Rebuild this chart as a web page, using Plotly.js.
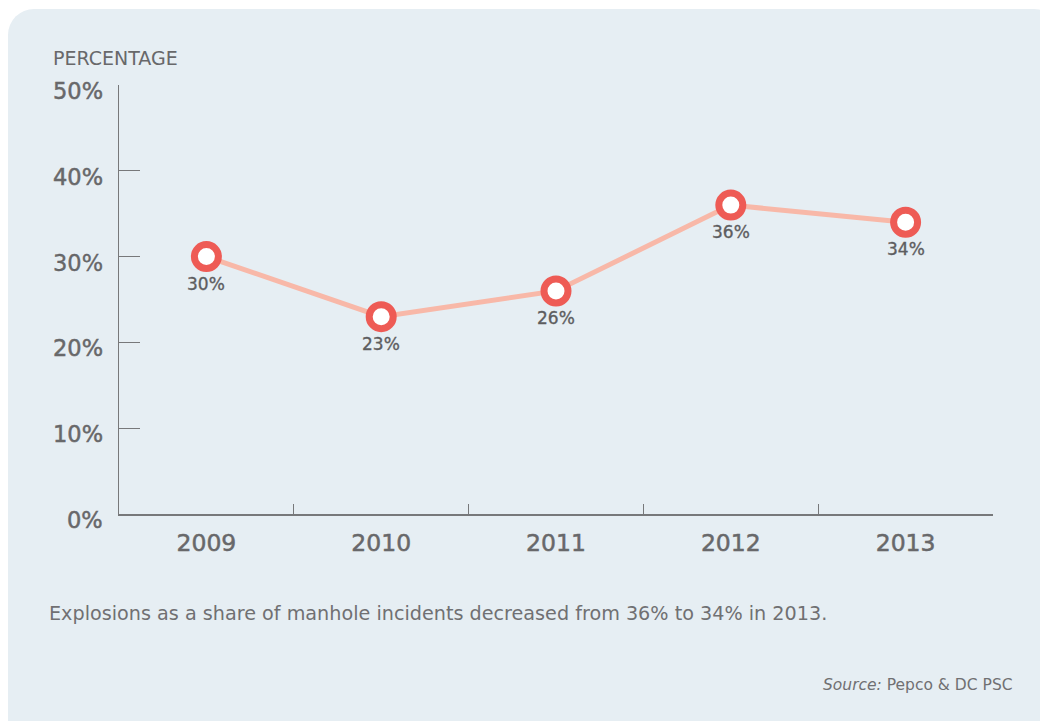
<!DOCTYPE html>
<html>
<head>
<meta charset="utf-8">
<script src="https://cdn.plot.ly/plotly-3.0.1.min.js"></script>
<style>
  html, body { margin: 0; padding: 0; background: #ffffff; overflow: hidden; }
  #bg { position: absolute; left: 8px; top: 9px; width: 1052px; height: 760px; border-radius: 26px; background: #E6EEF3; }
  #chart { position: absolute; left: 0; top: 0; width: 1040px; height: 721px; }
  #chart .xtick text { stroke: #68686a; stroke-width: 0.5px; }
  #chart .annotation-text.bold { stroke: #68686a; stroke-width: 0.5px; }
  #chart .annotation-text.val { stroke: #5d5d5f; stroke-width: 0.35px; }
</style>
</head>
<body>
<div id="bg"></div>
<div id="chart"></div>
<script>
const years = ['2009', '2010', '2011', '2012', '2013'];
const shares = [30, 23, 26, 36, 34];
const valueLabels = shares.map(v => v + '%');
const yTicks = [0, 10, 20, 30, 40, 50];
const yTickLabels = yTicks.map(v => v + '%');

const gray = '#68686a';
const font = 'DejaVu Sans, sans-serif';

const trace = {
  x: years,
  y: shares,
  type: 'scatter',
  mode: 'lines+markers',
  line: { color: '#F8B8A8', width: 5 },
  marker: { size: 24, color: '#ffffff', line: { color: '#EE5B55', width: 7 } },
  hoverinfo: 'skip',
  cliponaxis: false
};

// category axes take the category index for annotation positions
const valueAnnotations = years.map((yr, i) => ({
  x: i, y: shares[i], xref: 'x', yref: 'y',
  text: valueLabels[i], showarrow: false,
  xanchor: 'center', yanchor: 'middle', yshift: -27,
  font: { family: font, size: 17, color: '#5d5d5f' }
}));

// y tick labels sit slightly below their ticks in the reference
const yLabelAnnotations = yTicks.map((v, i) => ({
  x: 0, y: v, xref: 'paper', yref: 'y',
  text: yTickLabels[i], showarrow: false,
  xanchor: 'right', yanchor: 'middle', xshift: -14, yshift: -6,
  font: { family: font, size: 22.5, color: gray }
}));

const layout = {
  width: 1040,
  height: 721,
  margin: { l: 119, r: 47, t: 85, b: 207 },
  paper_bgcolor: 'rgba(0,0,0,0)',
  plot_bgcolor: 'rgba(0,0,0,0)',
  showlegend: false,
  xaxis: {
    type: 'category',
    range: [-0.5, 4.5],
    showline: true, linecolor: '#77787a', linewidth: 1.5,
    showgrid: false, zeroline: false,
    ticks: 'inside', ticklen: 10, tickwidth: 1.2, tickcolor: '#77787a',
    tickson: 'boundaries',
    tickfont: { family: font, size: 23.5, color: gray },
    ticklabelstandoff: 7,
    fixedrange: true
  },
  yaxis: {
    range: [0, 50],
    tickvals: yTicks,
    showticklabels: false,
    showline: true, linecolor: '#77787a', linewidth: 1.5,
    showgrid: false, zeroline: false,
    ticks: 'inside', ticklen: 21, tickwidth: 1.2, tickcolor: '#77787a',
    fixedrange: true
  },
  annotations: valueAnnotations.concat(yLabelAnnotations, [
    { text: 'PERCENTAGE', xref: 'paper', yref: 'paper', x: -0.078, y: 1.063, xanchor: 'left', yanchor: 'middle',
      showarrow: false, font: { family: font, size: 19, color: gray } },
    { text: 'Explosions as a share of manhole incidents decreased from 36% to 34% in 2013.', xref: 'paper', yref: 'paper',
      x: -0.082, y: -0.231, xanchor: 'left', yanchor: 'middle', showarrow: false,
      font: { family: font, size: 19.2, color: '#707072' } },
    { text: '<i>Source:</i> Pepco & DC PSC', xref: 'paper', yref: 'paper',
      x: 1.025, y: -0.399, xanchor: 'right', yanchor: 'middle', showarrow: false,
      font: { family: font, size: 15.5, color: '#707072' } }
  ])
};

Plotly.newPlot('chart', [trace], layout, { displayModeBar: false, staticPlot: true }).then(() => {
  const texts = document.querySelectorAll('#chart .annotation-text');
  texts.forEach(t => {
    const s = t.textContent;
    if (valueLabels.includes(s)) t.classList.add('val');
    else if (yTickLabels.includes(s)) t.classList.add('bold');
  });
});
</script>
</body>
</html>
